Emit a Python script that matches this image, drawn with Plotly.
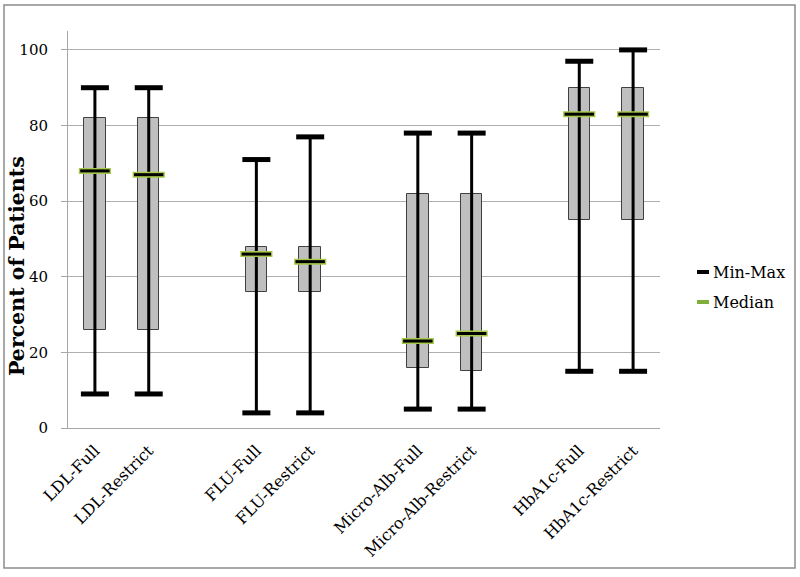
import plotly.graph_objects as go

categories = ["LDL-Full", "LDL-Restrict", "FLU-Full", "FLU-Restrict",
              "Micro-Alb-Full", "Micro-Alb-Restrict", "HbA1c-Full", "HbA1c-Restrict"]
mins = [9, 9, 4, 4, 5, 5, 15, 15]
q1 = [26, 26, 36, 36, 16, 15, 55, 55]
medians = [68, 67, 46, 44, 23, 25, 83, 83]
q3 = [82, 82, 48, 48, 62, 62, 90, 90]
maxs = [90, 90, 71, 77, 78, 78, 97, 100]
y_ticks = [0, 20, 40, 60, 80, 100]
legend_names = ["Min-Max", "Median"]

# slot positions: pairs separated by an empty slot
pos = [i + i // 2 for i in range(len(categories))]

FONT = "DejaVu Serif"
GREEN = "#A6C94A"
LGREEN = "#7FAF3A"
fig = go.Figure()

# whisker stems
sx, sy = [], []
for p, lo, hi in zip(pos, mins, maxs):
    sx += [p, p, None]
    sy += [lo, hi, None]
fig.add_trace(go.Scatter(x=sx, y=sy, mode="lines", line=dict(color="black", width=3),
                         showlegend=False, hoverinfo="skip"))

# boxes
fig.add_trace(go.Bar(x=pos, y=[b - a for a, b in zip(q1, q3)], base=q1, width=0.4,
                     marker=dict(color="#BFBFBF", line=dict(color="#404040", width=1)),
                     showlegend=False))

# caps
fig.add_trace(go.Scatter(x=pos + pos, y=mins + maxs, mode="markers", name=legend_names[0],
                         marker=dict(symbol="line-ew", size=20, line=dict(color="black", width=5)),
                         showlegend=False, hoverinfo="skip"))

# medians
fig.add_trace(go.Scatter(x=pos, y=medians, mode="markers",
                         marker=dict(symbol="line-ew", size=23, line=dict(color=GREEN, width=6)),
                         showlegend=False, hoverinfo="skip"))
fig.add_trace(go.Scatter(x=pos, y=medians, mode="markers", name=legend_names[1],
                         marker=dict(symbol="line-ew", size=21, line=dict(color="black", width=3)),
                         showlegend=False, hoverinfo="skip"))

L, R, T, B = 68, 140, 31, 149
W, H = 800, 577
pw, ph = W - L - R, H - T - B


def px_x(v):
    return (v - L) / pw


def px_y(v):
    return (H - B - v) / ph


# manual legend (Excel-style short line keys)
shapes = [dict(type="rect", xref="paper", yref="paper",
               x0=px_x(4), x1=px_x(795), y0=px_y(568), y1=px_y(5),
               line=dict(color="#8C8C8C", width=1.5), fillcolor="rgba(0,0,0,0)", layer="below")]
annotations = [dict(text="<b>Percent of Patients</b>", textangle=-90, showarrow=False,
                    xref="paper", yref="paper", x=px_x(17), y=px_y(266),
                    xanchor="center", yanchor="middle",
                    font=dict(family=FONT, size=20.5, color="black"))]
for name, col, yy in zip(legend_names, ["black", LGREEN], [272, 302]):
    shapes.append(dict(type="line", xref="paper", yref="paper",
                       x0=px_x(697), x1=px_x(709), y0=px_y(yy), y1=px_y(yy),
                       line=dict(color=col, width=4)))
    annotations.append(dict(text=name, showarrow=False, xref="paper", yref="paper",
                            x=px_x(711), y=px_y(yy), xanchor="left", yanchor="middle",
                            font=dict(family=FONT, size=16, color="black")))

fig.update_layout(
    width=W, height=H,
    margin=dict(l=L, r=R, t=T, b=B, autoexpand=False),
    paper_bgcolor="white", plot_bgcolor="white",
    font=dict(family=FONT, size=16, color="black"),
    bargap=0, showlegend=False,
    xaxis=dict(range=[-0.5, 10.5], tickmode="array", tickvals=pos, ticktext=categories,
               tickangle=-45, showgrid=False, zeroline=False, showline=True, automargin=False,
               linecolor="#A6A6A6", linewidth=1, ticks="", fixedrange=True,
               ticklabelstandoff=6, tickfont=dict(family=FONT, size=16)),
    yaxis=dict(range=[0, 105], tickmode="array", tickvals=y_ticks, automargin=False,
               showgrid=True, gridcolor="#AFAFAF", gridwidth=1, zeroline=False,
               showline=True, linecolor="#A6A6A6", linewidth=1,
               ticks="outside", ticklen=6, tickcolor="#A6A6A6", ticklabelstandoff=10,
               tickfont=dict(family=FONT, size=15), fixedrange=True),
    annotations=annotations,
    shapes=shapes,
)

fig.write_html("out.html", config={"displayModeBar": False},
               post_script="document.body.style.margin='0';")
